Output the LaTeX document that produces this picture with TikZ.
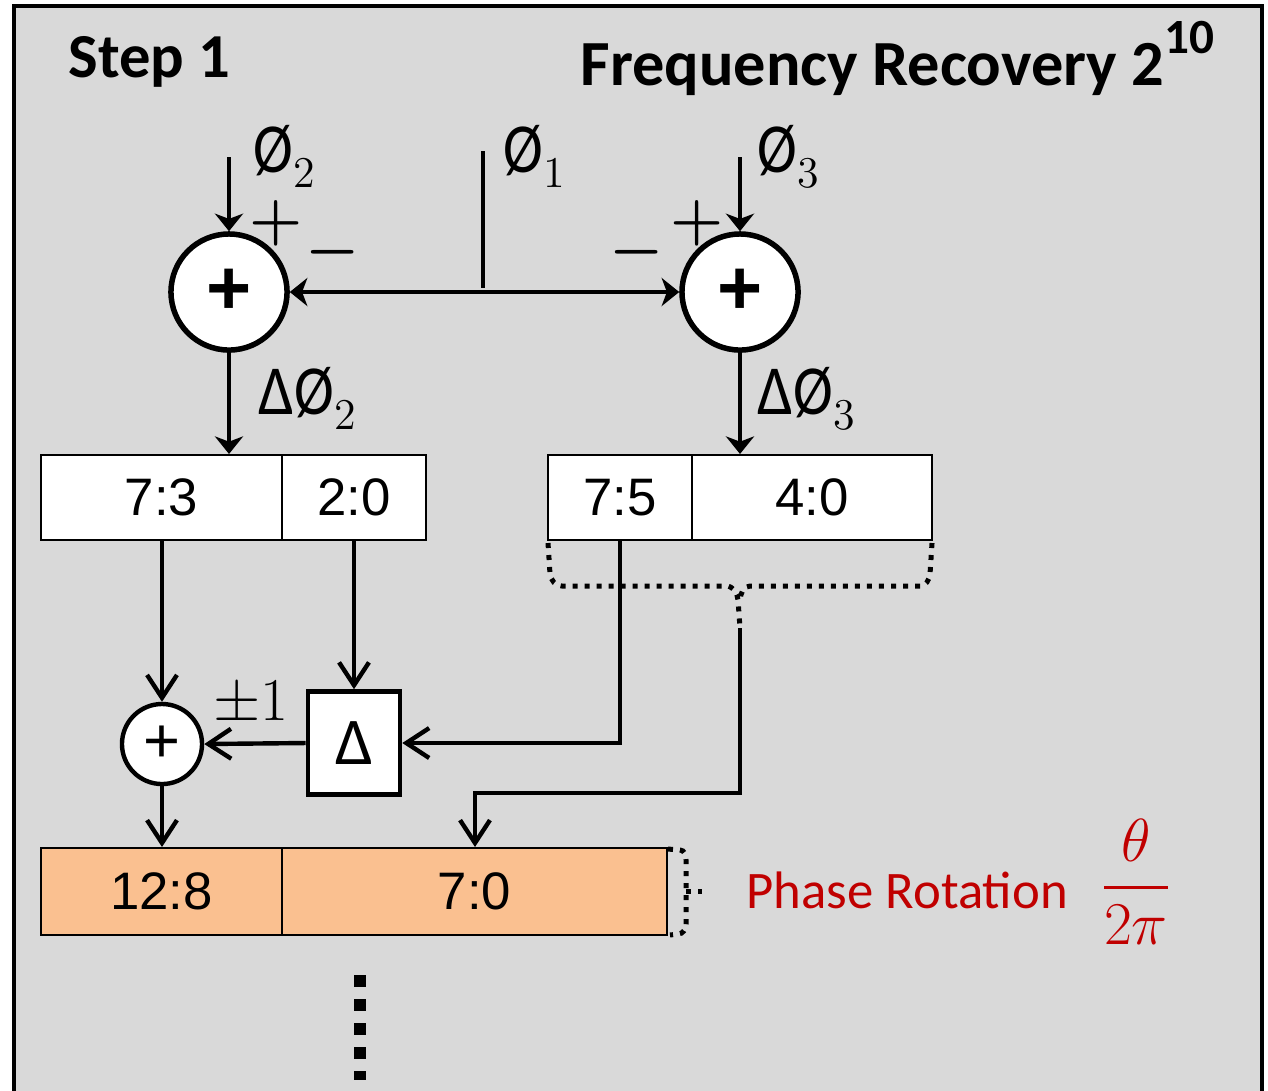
\documentclass[tikz,border=0pt]{standalone}
\usepackage{amsmath}
\usepackage{fontspec}
\usepackage{graphicx}
\usetikzlibrary{arrows.meta}
\newfontfamily\carl{Carlito}
\newfontfamily\arl{Liberation Sans}
\definecolor{bg}{HTML}{D9D9D9}
\definecolor{peach}{HTML}{FAC090}
\definecolor{dred}{HTML}{C00000}
\newcommand\phis[1]{{\carl\scalebox{0.85}[1]{Ø}}\raisebox{-4.5pt}{\fontsize{12.5}{12.5}\selectfont #1}}
\begin{document}
\begin{tikzpicture}[x=0.01cm,y=-0.01cm,
  conn/.style={line width=0.044cm},
  arrT/.style={conn,-{Stealth[length=5pt,width=8pt,inset=1.5pt]}},
  arrTT/.style={conn,{Stealth[length=5pt,width=8pt,inset=1.5pt]}-{Stealth[length=5pt,width=8pt,inset=1.5pt]}},
  arrV/.style={conn,-{Straight Barb[length=6.5pt,width=8.5pt,line width=0.044cm]}},
  bigsum/.style={circle,draw,fill=white,line width=0.055cm,minimum size=1.16cm,inner sep=0pt,
     font=\arl\bfseries\fontsize{22}{22}\selectfont},
  smallsum/.style={circle,draw,fill=white,line width=0.044cm,minimum size=0.8cm,inner sep=0pt,
     font=\arl\fontsize{18}{18}\selectfont},
  field/.style={rectangle,draw,fill=white,line width=0.02cm,minimum height=0.85cm,inner sep=0pt,
     font=\arl\fontsize{15}{15}\selectfont},
  pfield/.style={field,fill=peach,minimum height=0.87cm},
  dbox/.style={rectangle,draw,fill=white,line width=0.045cm,minimum width=0.92cm,minimum height=1.03cm,
     inner sep=0pt,font=\carl\fontsize{19}{19}\selectfont},
  lbl/.style={inner sep=0pt,font=\fontsize{20}{20}\selectfont},
  sgn/.style={inner sep=0pt,font=\fontsize{17}{17}\selectfont},
  dotb/.style={line width=0.05cm,dash pattern=on 0.05cm off 0.07cm},
  title/.style={inner sep=0pt,font=\carl\bfseries\fontsize{17.8}{20}\selectfont}]
\useasboundingbox (0,0) rectangle (1268,1090);
\fill[white] (0,0) rectangle (1268,1090);
\filldraw[fill=bg,draw=black,line width=0.042cm] (14,6) rectangle (1262,1130);

% titles
\node[title,anchor=base west] (step) at (68,77) {Step 1};
\node[title,anchor=base east,font=\carl\bfseries\fontsize{18.3}{20}\selectfont] (ttl) at (1215,85) {Frequency Recovery 2\raisebox{9pt}{\fontsize{14}{14}\selectfont 10}};

% adders
\node[bigsum] (s2) at (229,292) {\raisebox{-2pt}{+}};
\node[bigsum] (s3) at (740,292) {\raisebox{-2pt}{+}};

% inputs
\coordinate (p2) at (229,157);
\coordinate (p3) at (740,157);
\coordinate (p1t) at (483,151);
\coordinate (p1b) at (483,288);
\draw[arrT] (p2) -- (s2.north);
\draw[arrT] (p3) -- (s3.north);
\draw[conn] (p1t) -- (p1b);
\draw[arrTT] (s2.east) -- (s3.west);

\node[lbl,anchor=base west] (l2) at (253,172) {\phis{2}};
\node[lbl,anchor=base west] (l1) at (503,172) {\phis{1}};
\node[lbl,anchor=base west] (l3) at (757,172) {\phis{3}};

\node[sgn] (pl2) at (276,223) {$\boldsymbol{+}$};
\node[sgn] (mi2) at (333,252) {$\boldsymbol{-}$};
\node[sgn] (pl3) at (697,223) {$\boldsymbol{+}$};
\node[sgn] (mi3) at (637,252) {$\boldsymbol{-}$};

% fields
\node[field,minimum width=2.41cm] (b73) at (161.5,497.5) {7:3};
\node[field,minimum width=1.44cm] (b20) at (354,497.5) {2:0};
\node[field,minimum width=1.44cm] (b75) at (620,497.5) {7:5};
\node[field,minimum width=2.40cm] (b40) at (812,497.5) {4:0};

\draw[arrT] (s2.south) -- (s2.south |- b73.north);
\draw[arrT] (s3.south) -- (s3.south |- b40.north);
\node[lbl,anchor=base west] (d2) at (258,414) {{\carl\scalebox{0.9}[1]{Δ}}\phis{2}};
\node[lbl,anchor=base west] (d3) at (757,414) {{\carl\scalebox{0.9}[1]{Δ}}\phis{3}};

% lower part
\node[smallsum] (sm) at (162,744) {+};
\node[dbox] (dl) at (354,743) {Δ};
\node[pfield,minimum width=2.41cm] (b128) at (161.5,891.5) {12:8};
\node[pfield,minimum width=3.85cm] (b70) at (474.5,891.5) {7:0};

\draw[arrV] (b73.south -| sm) -- (sm.north);
\draw[arrV] (b20.south) -- (dl.north);
\draw[arrV] (b75.south) |- (dl.east);
\draw[arrV] (dl.west) -- (sm.east);
\draw[arrV] (sm.south) -- (sm.south |- b128.north);
\node[inner sep=0pt,font=\fontsize{16}{16}\selectfont] (pm) at (251,703) {$\pm1$};

% dotted brace under 7:5 / 4:0
\coordinate (bt) at (740,628);
\draw[dotb] (548,543) -- (550,574) to[out=-80,in=180] (562,586) -- (726,586)
   to[out=0,in=95] (738,600) -- (bt);
\draw[dotb] (932,543) -- (930,574) to[out=-100,in=0] (920,586) -- (750,586)
   to[out=180,in=85] (740,600);
\coordinate (c1) at (475,793);
\draw[arrV] (bt) -- (bt |- c1) -- (c1) -- (c1 |- b70.north);

% dotted brace at right of result
\draw[dotb] (668,849) -- (680,850) to[out=0,in=90] (686,860) -- (686,924)
   to[out=-90,in=0] (678,934) -- (670,935);
\draw[dotb] (686,891) -- (702,891);

\node[inner sep=0pt,anchor=base west,text=dred,font=\carl\fontsize{15}{15}\selectfont] (ph) at (746,908) {Phase Rotation};
\node[inner sep=0pt,text=dred,font=\fontsize{17.5}{17.5}\selectfont] (fr) at (1136,882) {$\displaystyle\frac{\,\theta\,}{2\pi}$};

% continuation
\coordinate (v1) at (360,975);
\coordinate (v2) at (360,1080);
\draw[line width=0.12cm,dash pattern=on 0.12cm off 0.12cm] (v1) -- (v2);
\end{tikzpicture}
\end{document}
